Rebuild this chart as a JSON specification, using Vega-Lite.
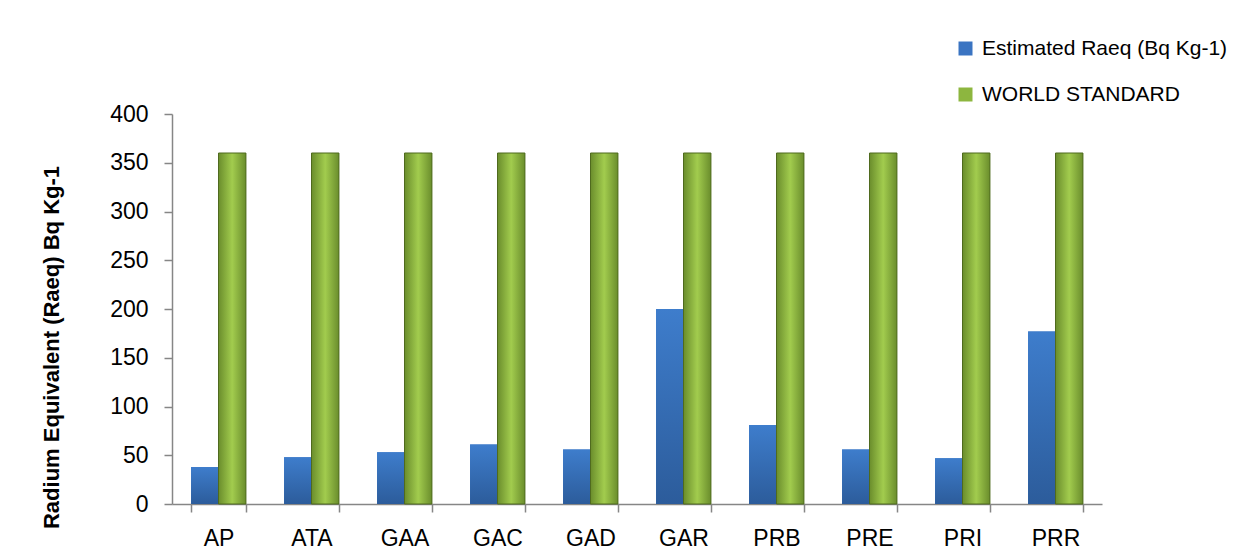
{
  "$schema": "https://vega.github.io/schema/vega-lite/v6.json",
  "autosize": "none",
  "width": 930,
  "height": 390,
  "padding": {"left": 172, "top": 114, "right": 145, "bottom": 54},
  "background": "white",
  "config": {
    "view": {"stroke": null},
    "font": "Liberation Sans",
    "axis": {
      "domainColor": "#868686",
      "domainWidth": 1.5,
      "tickColor": "#868686",
      "tickWidth": 1.5,
      "tickSize": 8,
      "labelColor": "#000000",
      "labelFont": "Liberation Sans",
      "labelFontSize": 23,
      "grid": false
    }
  },
  "data": {
    "values": [
      {"site": "AP", "series": "Estimated Raeq (Bq Kg-1)", "value": 38},
      {"site": "AP", "series": "WORLD STANDARD", "value": 360},
      {"site": "ATA", "series": "Estimated Raeq (Bq Kg-1)", "value": 48},
      {"site": "ATA", "series": "WORLD STANDARD", "value": 360},
      {"site": "GAA", "series": "Estimated Raeq (Bq Kg-1)", "value": 53},
      {"site": "GAA", "series": "WORLD STANDARD", "value": 360},
      {"site": "GAC", "series": "Estimated Raeq (Bq Kg-1)", "value": 61},
      {"site": "GAC", "series": "WORLD STANDARD", "value": 360},
      {"site": "GAD", "series": "Estimated Raeq (Bq Kg-1)", "value": 56},
      {"site": "GAD", "series": "WORLD STANDARD", "value": 360},
      {"site": "GAR", "series": "Estimated Raeq (Bq Kg-1)", "value": 200},
      {"site": "GAR", "series": "WORLD STANDARD", "value": 360},
      {"site": "PRB", "series": "Estimated Raeq (Bq Kg-1)", "value": 81},
      {"site": "PRB", "series": "WORLD STANDARD", "value": 360},
      {"site": "PRE", "series": "Estimated Raeq (Bq Kg-1)", "value": 56},
      {"site": "PRE", "series": "WORLD STANDARD", "value": 360},
      {"site": "PRI", "series": "Estimated Raeq (Bq Kg-1)", "value": 47},
      {"site": "PRI", "series": "WORLD STANDARD", "value": 360},
      {"site": "PRR", "series": "Estimated Raeq (Bq Kg-1)", "value": 177},
      {"site": "PRR", "series": "WORLD STANDARD", "value": 360}
    ]
  },
  "encoding": {
    "x": {
      "field": "site",
      "type": "nominal",
      "sort": null,
      "scale": {"paddingInner": 0.41, "paddingOuter": 0.205},
      "axis": {"title": null, "labelAngle": 0, "tickBand": "extent", "labelPadding": 15, "labelBaseline": "top"}
    },
    "xOffset": {
      "field": "series",
      "type": "nominal",
      "sort": null,
      "scale": {"domain": ["Estimated Raeq (Bq Kg-1)", "WORLD STANDARD"], "paddingInner": 0, "paddingOuter": 0}
    },
    "y": {
      "field": "value",
      "type": "quantitative",
      "scale": {"domain": [0, 400], "nice": false},
      "axis": {
        "values": [0, 50, 100, 150, 200, 250, 300, 350, 400],
        "labelPadding": 16,
        "title": "Radium Equivalent (Raeq) Bq Kg-1",
        "titleFont": "Liberation Sans",
        "titleFontWeight": "bold",
        "titleFontSize": 22,
        "titleColor": "#000000",
        "titleAngle": 270,
        "titleAlign": "center",
        "titleBaseline": "middle",
        "titleX": -121,
        "titleY": 233
      }
    }
  },
  "layer": [
    {
      "mark": {"type": "bar"},
      "encoding": {
        "color": {
          "field": "series",
          "type": "nominal",
          "sort": null,
          "scale": {"domain": ["Estimated Raeq (Bq Kg-1)", "WORLD STANDARD"], "range": ["#3a74c2", "#8db63f"]},
          "legend": {
            "title": null,
            "orient": "none",
            "legendX": 783,
            "legendY": -76,
            "symbolType": "square",
            "symbolSize": 196,
            "symbolStrokeWidth": 0,
            "labelFont": "Liberation Sans",
            "labelFontSize": 21,
            "labelLimit": 0,
            "labelColor": "#000000",
            "labelOffset": 6,
            "rowPadding": 24
          }
        }
      }
    },
    {
      "transform": [{"filter": "datum.series === 'Estimated Raeq (Bq Kg-1)'"}],
      "mark": {
        "type": "bar",
        "color": {"gradient": "linear", "x1": 0, "y1": 0, "x2": 0, "y2": 1, "stops": [{"offset": 0, "color": "#3e7dcc"}, {"offset": 1, "color": "#2c5c9b"}]}
      }
    },
    {
      "transform": [{"filter": "datum.series === 'WORLD STANDARD'"}],
      "mark": {
        "type": "bar",
        "stroke": "#4f6a1e",
        "strokeWidth": 1,
        "color": {"gradient": "linear", "x1": 0, "y1": 0, "x2": 1, "y2": 0, "stops": [{"offset": 0, "color": "#6a8d2c"}, {"offset": 0.5, "color": "#a2cc4e"}, {"offset": 1, "color": "#6a8d2c"}]}
      }
    }
  ]
}
